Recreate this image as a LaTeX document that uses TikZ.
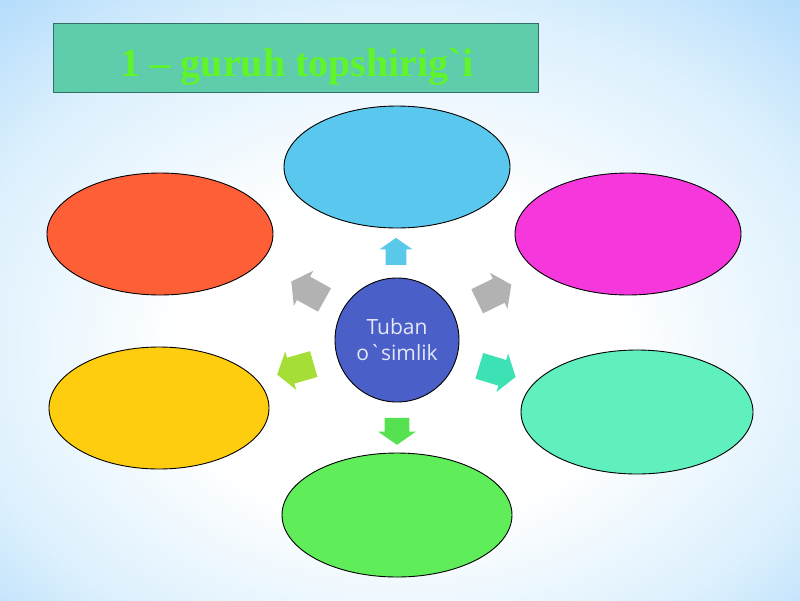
\documentclass[tikz,border=0pt]{standalone}
\usepackage{fontspec}
\setmainfont{Liberation Serif}
\newfontfamily\ctrfont{Open Sans}
\usetikzlibrary{shapes.geometric,shapes.arrows}
\definecolor{bgA}{RGB}{220,240,253}
\definecolor{bgB}{RGB}{160,210,250}
\definecolor{bgC}{RGB}{95,182,250}
\definecolor{titlefill}{RGB}{95,205,172}
\definecolor{titleline}{RGB}{50,110,100}
\definecolor{titletext}{RGB}{95,245,40}
\definecolor{cTop}{RGB}{90,200,238}
\definecolor{cTL}{RGB}{255,95,55}
\definecolor{cTR}{RGB}{245,55,220}
\definecolor{cL}{RGB}{255,205,15}
\definecolor{cR}{RGB}{95,240,190}
\definecolor{cB}{RGB}{95,238,90}
\definecolor{cCtr}{RGB}{75,95,200}
\definecolor{aTop}{RGB}{90,200,232}
\definecolor{aGray}{RGB}{178,178,178}
\definecolor{aL}{RGB}{165,222,55}
\definecolor{aR}{RGB}{60,225,180}
\definecolor{aB}{RGB}{85,225,80}
\pgfdeclareradialshading{bgshade}{\pgfpoint{0bp}{-6bp}}{color(0bp)=(white); color(14bp)=(white); color(28bp)=(bgA); color(42bp)=(bgB); color(64bp)=(bgC)}
\tikzset{
  bubble/.style={ellipse, draw=black, line width=0.9pt, minimum width=226pt, minimum height=122pt, inner sep=0pt},
  blockarrow/.style={single arrow, inner sep=0pt, minimum height=27pt, minimum width=33pt, single arrow head extend=6pt, single arrow tip angle=110, draw=none},
  bigarrow/.style={blockarrow, minimum height=38pt, minimum width=40pt},
}
\newcommand{\shaft}[1]{\rule{0pt}{#1}}
\begin{document}
\begin{tikzpicture}[x=1pt,y=-1pt]
\useasboundingbox (0,0) rectangle (800,600);
\shade[shading=bgshade] (0,0) rectangle (800,600);
% title
\node[draw=titleline, line width=0.8pt, fill=titlefill, minimum width=485pt, minimum height=69pt, inner sep=0pt] (title) at (295.5,57.5) {};
\node[text=titletext, font=\bfseries\fontsize{40}{44}\selectfont, anchor=base] (titletxt) at (297,76) {1 – guruh topshirig\textasciigrave i};
% ellipses
\node[bubble, fill=cTop] (top) at (397,167) {};
\node[bubble, fill=cTL] (tl) at (160,234) {};
\node[bubble, fill=cTR] (tr) at (628,234) {};
\node[bubble, fill=cL, minimum width=220pt] (l) at (159,408) {};
\node[bubble, fill=cR, minimum width=232pt, minimum height=124pt] (r) at (637,412) {};
\node[bubble, fill=cB, minimum width=230pt, minimum height=124pt] (b) at (397,515) {};
% center
\node[circle, draw=black, line width=0.9pt, fill=cCtr, minimum size=124pt, inner sep=0pt, text=white!85!cCtr, font=\ctrfont\fontsize{21}{26}\selectfont, align=center] (ctr) at (397,340) {Tuban\\o\textasciigrave simlik};
% arrows
\node[blockarrow, fill=aTop, rotate=90] (a1) at (396,255) {\shaft{20pt}};
\node[bigarrow, fill=aGray, rotate=151] (a2) at (312,293) {\shaft{24pt}};
\node[bigarrow, fill=aGray, rotate=26] (a3) at (490,295) {\shaft{24pt}};
\node[bigarrow, fill=aL, rotate=196] (a4) at (300,368) {\shaft{24pt}};
\node[bigarrow, fill=aR, rotate=-17] (a5) at (493,370) {\shaft{24pt}};
\node[blockarrow, fill=aB, rotate=-90, minimum width=38pt] (a6) at (397,427) {\shaft{22pt}};
\end{tikzpicture}
\end{document}
